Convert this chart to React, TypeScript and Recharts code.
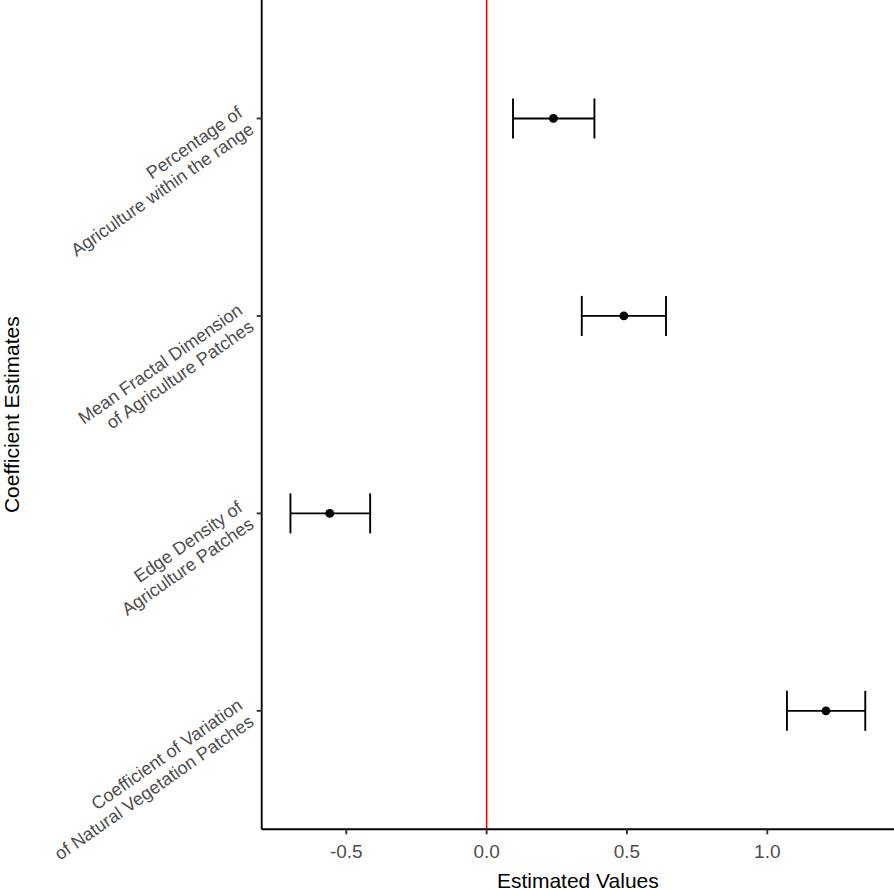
import React from "react";
import {
  ScatterChart,
  Scatter,
  XAxis,
  YAxis,
  ErrorBar,
  ReferenceLine,
  Label,
} from "recharts";

// terms listed top to bottom as they appear in the plot
const terms = [
  "Percentage of\nAgriculture within the range",
  "Mean Fractal Dimension\nof Agriculture Patches",
  "Edge Density of\nAgriculture Patches",
  "Coefficient of Variation\nof Natural Vegetation Patches",
];
const estimates = [0.238, 0.489, -0.559, 1.209];
const lower = [0.094, 0.339, -0.699, 1.07];
const upper = [0.384, 0.639, -0.415, 1.349];
const xTicks = [-0.5, 0, 0.5, 1.0];

const FONT = '"Liberation Sans", Arial, sans-serif';

const data = terms.map((term, i) => ({
  term,
  pos: terms.length - i,
  est: estimates[i],
  err: [estimates[i] - lower[i], upper[i] - estimates[i]],
}));

// ggplot-like 5% expansion on the continuous axis
const lo = Math.min(...lower);
const hi = Math.max(...upper);
const pad = (hi - lo) * 0.05;
const xDomain = [lo - pad, hi + pad];
const yDomain = [0.4, terms.length + 0.6];
const yTicks = data.map((d) => d.pos);

const YTick = (props: any) => {
  const { x, y, payload } = props;
  const row = data.find((d) => d.pos === payload.value);
  const lines = row ? row.term.split("\n") : [];
  return (
    <g transform={`translate(${x},${y}) rotate(-35)`}>
      <text textAnchor="end" fill="#4D4D4D" fontSize={18} fontFamily={FONT}>
        {lines.map((l, k) => (
          <tspan key={k} x={0} y={(k - (lines.length - 1) / 2) * 20 + 6.4}>
            {l}
          </tspan>
        ))}
      </text>
    </g>
  );
};

const Dot = (p: any) => <circle cx={p.cx} cy={p.cy} r={4.4} fill="#000" />;

export default function App() {
  return (
    <div style={{ position: "absolute", left: 0, top: 0 }}>
      <ScatterChart
        width={894}
        height={890}
        margin={{ top: 0, right: 0, bottom: 0, left: 0 }}
      >
        <XAxis
          type="number"
          dataKey="est"
          domain={xDomain}
          allowDataOverflow
          ticks={xTicks}
          tickFormatter={(v: number) => v.toFixed(1)}
          height={60.7}
          tickSize={5}
          tickMargin={10.5}
          axisLine={{ stroke: "#000", strokeWidth: 1.9 }}
          tickLine={{ stroke: "#333", strokeWidth: 1.9 }}
          tick={{ fill: "#4D4D4D", fontSize: 19, fontFamily: FONT }}
        >
          <Label
            value="Estimated Values"
            position="insideBottom"
            offset={2.5}
            style={{ fill: "#000", fontSize: 21, fontFamily: FONT }}
          />
        </XAxis>
        <YAxis
          type="number"
          dataKey="pos"
          domain={yDomain}
          allowDataOverflow
          ticks={yTicks}
          width={261.7}
          tickSize={5}
          tickMargin={11}
          axisLine={{ stroke: "#000", strokeWidth: 1.9 }}
          tickLine={{ stroke: "#333", strokeWidth: 1.9 }}
          tick={<YTick />}
        >
          <Label
            content={(p: any) => {
              const vb = p.viewBox || {};
              const cx = (vb.x || 0) + 19;
              const cy = (vb.y || 0) + (vb.height || 0) / 2;
              return (
                <text
                  x={cx}
                  y={cy}
                  transform={`rotate(-90 ${cx} ${cy})`}
                  textAnchor="middle"
                  fill="#000"
                  fontSize={21}
                  fontFamily={FONT}
                >
                  Coefficient Estimates
                </text>
              );
            }}
          />
        </YAxis>
        <ReferenceLine x={0} stroke="#FF0000" strokeWidth={1.6} />
        <Scatter data={data} shape={Dot} isAnimationActive={false}>
          <ErrorBar
            dataKey="err"
            direction="x"
            width={20}
            stroke="#000"
            strokeWidth={1.9}
            isAnimationActive={false}
          />
        </Scatter>
      </ScatterChart>
    </div>
  );
}
